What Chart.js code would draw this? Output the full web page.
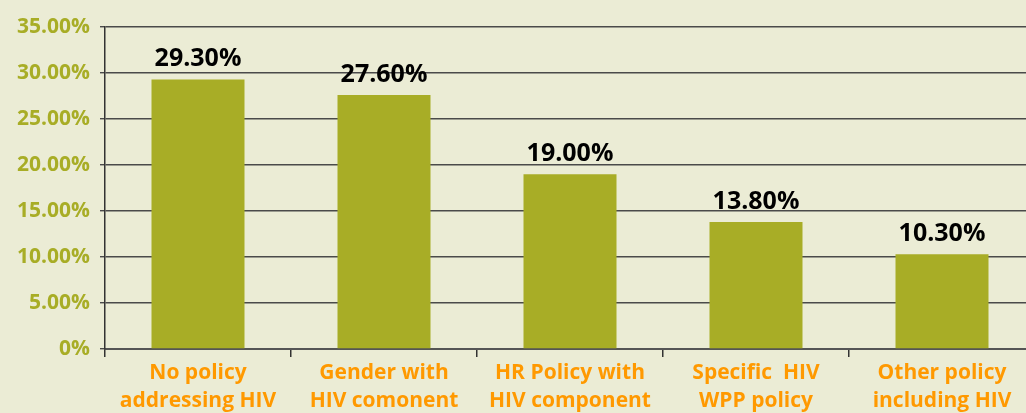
<!DOCTYPE html>
<html>
<head>
<meta charset="utf-8">
<script src="https://cdn.jsdelivr.net/npm/chart.js@4/dist/chart.umd.min.js"></script>
<style>
  html, body { margin: 0; padding: 0; background: #ebecd5; overflow: hidden; }
  #wrap { width: 1036px; height: 413px; position: relative; }
</style>
</head>
<body>
<div id="wrap"><canvas id="barChart"></canvas></div>
<script>
// categories (two-line labels) and values in percent
const categories = [
    ["No policy", "addressing HIV"],
    ["Gender with", "HIV comonent"],
    ["HR Policy with", "HIV component"],
    ["Specific  HIV", "WPP policy"],
    ["Other policy", "including HIV"]
];
const values = [29.3, 27.6, 19.0, 13.8, 10.3];
const yTicks = [0, 5, 10, 15, 20, 25, 30, 35];

const fontFamily = "'Open Sans', 'Noto Sans', sans-serif";

// draws the value above each bar
const valueLabels = {
    id: "valueLabels",
    afterDatasetsDraw(chart) {
        const ctx = chart.ctx;
        const meta = chart.getDatasetMeta(0);
        ctx.save();
        ctx.font = "bold 25px " + fontFamily;
        ctx.fillStyle = "#000";
        ctx.textAlign = "center";
        ctx.textBaseline = "alphabetic";
        meta.data.forEach((bar, i) => {
            ctx.fillText(values[i].toFixed(2) + "%", bar.x, bar.y - 13);
        });
        ctx.restore();
    }
};

const config = {
    type: "bar",
    data: {
        labels: categories,
        datasets: [{
            data: values,
            backgroundColor: "#a8ad26",
            barPercentage: 0.5,
            categoryPercentage: 1.0
        }]
    },
    options: {
        responsive: true,
        maintainAspectRatio: false,
        animation: false,
        layout: { padding: { top: 27, right: 1, left: 0, bottom: 0 } },
        plugins: {
            legend: { display: false },
            tooltip: { enabled: false }
        },
        scales: {
            x: {
                afterFit: (scale) => { scale.height = 64; },
                grid: {
                    offset: true,
                    drawOnChartArea: false,
                    drawTicks: true,
                    tickLength: 8,
                    color: "#333",
                    lineWidth: 1.5
                },
                border: { display: true, color: "#555", width: 2 },
                ticks: {
                    color: "#ff9900",
                    padding: 2,
                    maxRotation: 0,
                    autoSkip: false,
                    font: { family: fontFamily, size: 21, weight: "bold", lineHeight: 1.33 }
                }
            },
            y: {
                min: 0,
                max: 35,
                afterFit: (scale) => { scale.width = 105; },
                afterBuildTicks: (scale) => { scale.ticks = yTicks.map(v => ({ value: v })); },
                grid: {
                    color: "#4a4a4a",
                    lineWidth: 1.4,
                    tickLength: 5
                },
                border: { display: true, color: "#333", width: 1.5 },
                ticks: {
                    color: "#a8ad26",
                    padding: 10,
                    font: { family: fontFamily, size: 21, weight: "bold" },
                    callback: (v) => v === 0 ? "0%" : v.toFixed(2) + "%"
                }
            }
        }
    },
    plugins: [valueLabels]
};

new Chart(document.getElementById("barChart").getContext("2d"), config);
</script>
</body>
</html>
